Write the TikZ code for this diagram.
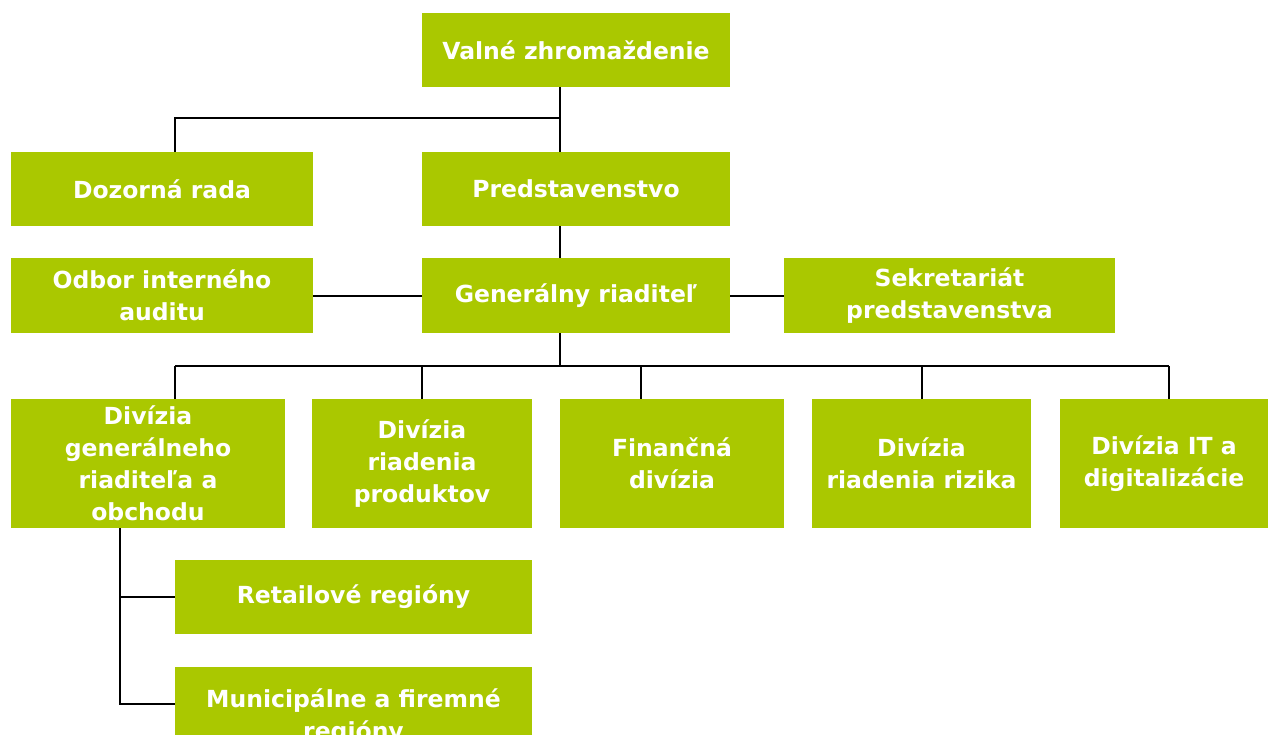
\documentclass[tikz,border=0pt]{standalone}
\usepackage{fontspec}
\setmainfont{DejaVu Sans}
\definecolor{orggreen}{RGB}{170,200,0}
\begin{document}
\begin{tikzpicture}[x=1pt,y=-1pt,
    orgbox/.style={fill=orggreen,text=white,align=center,inner sep=0pt,
        font=\bfseries\fontsize{23.5}{32}\selectfont},
    orgline/.style={draw=black,line width=2pt}]
    \useasboundingbox (0,0) rectangle (1268,735);
    % top levels
    \node[orgbox,minimum width=308pt,minimum height=74pt] at (576,50) (vz) {Valné zhromaždenie};
    \node[orgbox,minimum width=302pt,minimum height=74pt] at (162,189) (dr) {Dozorná rada};
    \node[orgbox,minimum width=308pt,minimum height=74pt] at (576,189) (pr) {Predstavenstvo};
    \node[orgbox,minimum width=302pt,minimum height=75pt] at (162,295.5) (oia) {Odbor interného\\auditu};
    \node[orgbox,minimum width=308pt,minimum height=75pt] at (576,295.5) (gr) {Generálny riaditeľ};
    \node[orgbox,minimum width=331pt,minimum height=75pt] at (949.5,295.5) (sp) {Sekretariát\\predstavenstva};
    % divisions
    \node[orgbox,minimum width=274pt,minimum height=129pt] at (148,463.5) (d1) {Divízia\\generálneho\\riaditeľa a\\obchodu};
    \node[orgbox,minimum width=220pt,minimum height=129pt] at (422,463.5) (d2) {Divízia\\riadenia\\produktov};
    \node[orgbox,minimum width=224pt,minimum height=129pt] at (672,463.5) (d3) {Finančná\\divízia};
    \node[orgbox,minimum width=219pt,minimum height=129pt] at (921.5,463.5) (d4) {Divízia\\riadenia rizika};
    \node[orgbox,minimum width=208pt,minimum height=129pt] at (1164,463.5) (d5) {Divízia IT a\\digitalizácie};
    % regions
    \node[orgbox,minimum width=357pt,minimum height=74pt] at (353.5,597) (rr) {Retailové regióny};
    \node[orgbox,minimum width=357pt,minimum height=100pt] at (353.5,717) (mr) {Municipálne a firemné\\regióny};
    % bus points
    \coordinate (spine) at (560,0);
    \coordinate (b1) at (175,366);
    \coordinate (b2) at (422,366);
    \coordinate (b3) at (641,366);
    \coordinate (b4) at (922,366);
    \coordinate (b5) at (1169,366);
    \coordinate (bt) at (0,118.5);
    \coordinate (rs) at (120,0);
    \draw[orgline] (vz.south -| spine)--(pr.north -| spine);
    \draw[orgline] (bt -| spine)-|(dr.north -| b1);
    \draw[orgline] (pr.south -| spine)--(gr.north -| spine);
    \draw[orgline] (oia.east)--(gr.west);
    \draw[orgline] (gr.east)--(sp.west);
    \draw[orgline] (gr.south -| spine)--(b1 -| spine);
    \draw[orgline] (b1)--(b5);
    \draw[orgline] (b1)--(b1 |- d1.north);
    \draw[orgline] (b2)--(b2 |- d2.north);
    \draw[orgline] (b3)--(b3 |- d3.north);
    \draw[orgline] (b4)--(b4 |- d4.north);
    \draw[orgline] (b5)--(b5 |- d5.north);
    \draw[orgline] (d1.south -| rs)|-(rr.west);
    \draw[orgline] (d1.south -| rs)|-([yshift=13pt]mr.west);
\end{tikzpicture}
\end{document}
